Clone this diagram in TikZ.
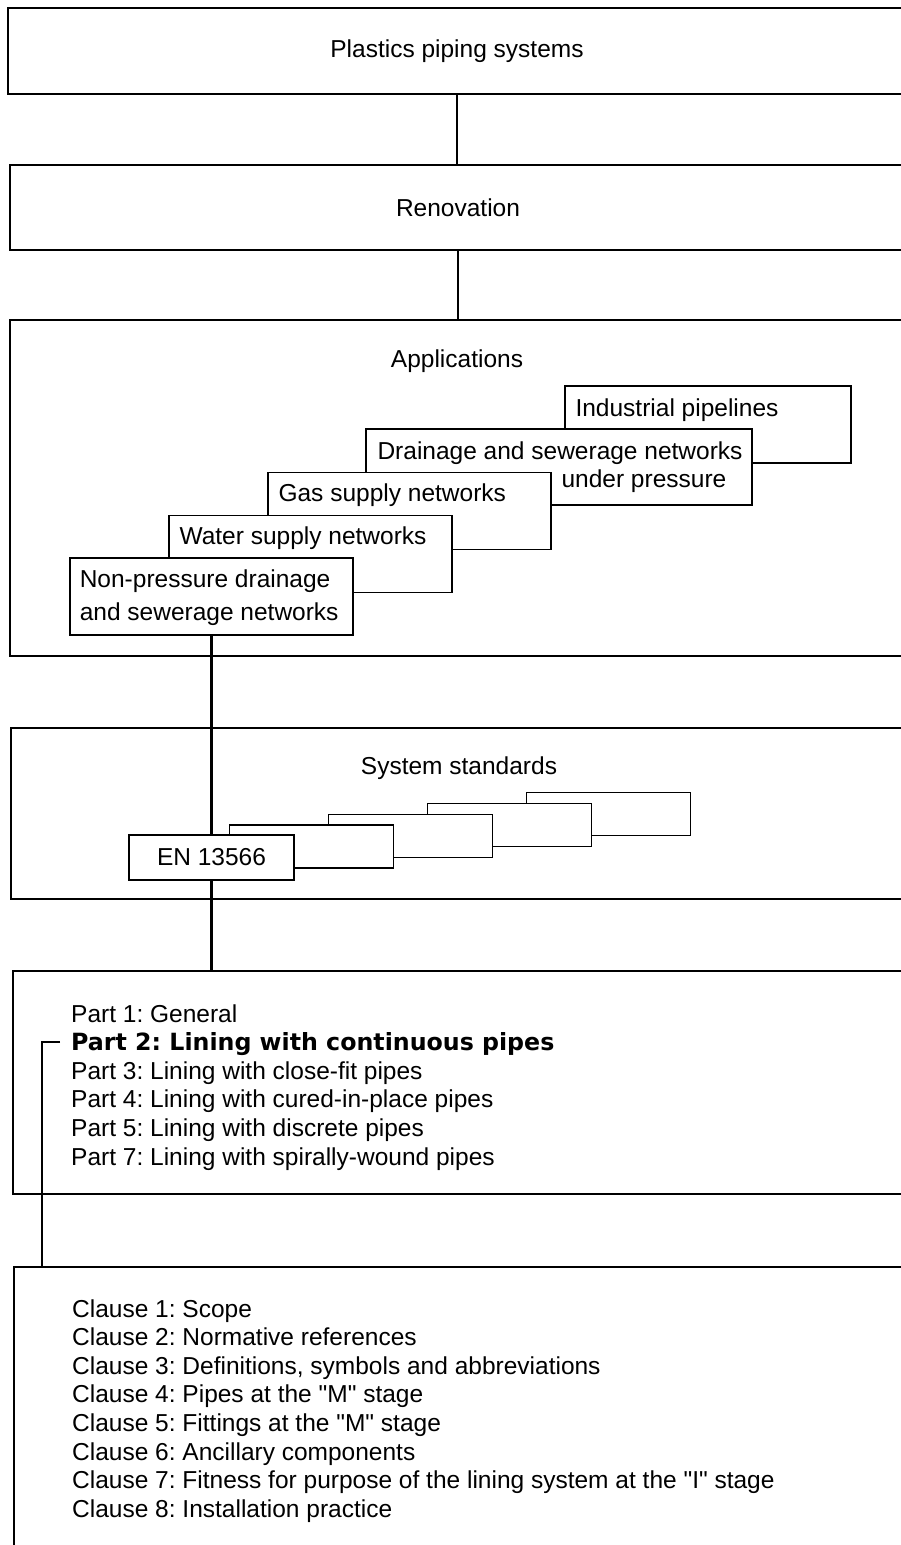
\documentclass[tikz,border=0pt]{standalone}
\usepackage{fontspec}
\newfontfamily\armain{Liberation Sans}
\newfontfamily\heavyfont{DejaVu Sans}
\begin{document}
\begin{tikzpicture}[x=1pt,y=-1pt,
  every node/.style={font=\armain\frenchspacing\fontsize{24.5}{28.6}\selectfont},
  bigbox/.style={draw,line width=1.6pt,fill=white,inner sep=0pt},
  subbox/.style={draw,line width=1.3pt,fill=white,minimum width=283pt,minimum height=77pt},
  stdbox/.style={draw,line width=1.3pt,fill=white,minimum width=164pt,minimum height=43pt},
  keybox/.style={line width=2.8pt},
  txt/.style={anchor=base west,inner sep=0pt},
  link/.style={line width=2.2pt}]
\useasboundingbox (0,0) rectangle (901,1545);
\clip (0,0) rectangle (901,1545);

% levels
\node[bigbox,minimum width=898pt,minimum height=86pt] (plastics) at (457,51) {Plastics piping systems};
\node[bigbox,minimum width=896pt,minimum height=85pt] (renov) at (458,207.5) {Renovation};
\node[bigbox,minimum width=896pt,minimum height=336pt] (appl) at (458,488) {};
\node[bigbox,minimum width=895pt,minimum height=171pt] (sysstd) at (458.5,813.5) {};
\node[bigbox,minimum width=893pt,minimum height=223pt] (parts) at (459.5,1082.5) {};
\node[bigbox,minimum width=892pt,minimum height=293pt] (clauses) at (460,1413.5) {};

\node[anchor=base] (applt) at (457,367) {Applications};
\node[anchor=base] (syst) at (459,774) {System standards};

% applications, back to front
\node[subbox,minimum width=286pt] (ind) at (708,424.5) {};
\node[txt] (indt) at ([shift={(11,31)}]ind.north west) {Industrial pipelines};
\node[subbox,minimum width=386pt,minimum height=76pt] (drain) at (559,467) {};
\node[txt] (draint) at ([shift={(12,31)}]drain.north west) {Drainage and sewerage networks};
\node[txt] (draint2) at ([shift={(196,59)}]drain.north west) {under pressure};
\node[subbox] (gas) at (409.5,511) {};
\node[txt] (gast) at ([shift={(11,30)}]gas.north west) {Gas supply networks};
\node[subbox] (water) at (310.5,554) {};
\node[txt] (watert) at ([shift={(11,30)}]water.north west) {Water supply networks};
\node[subbox,keybox] (nonp) at (211.5,596.5) {};
\node[txt] (nonpt) at ([shift={(11,31)}]nonp.north west) {Non-pressure drainage};
\node[txt] (nonpt2) at ([shift={(11,64)}]nonp.north west) {and sewerage networks};

% system standards
\foreach \i in {3,2,1,0}
  \node[stdbox] (std\i) at (311.5+99*\i,846.5-10.8*\i) {};
\node[stdbox,keybox,minimum width=165pt,minimum height=45pt] (en) at (211.5,857.5) {EN 13566};

% parts
\node[txt] (part1) at (71,1022) {Part 1: General};
\node[txt,font=\heavyfont\bfseries\frenchspacing\fontsize{23.7}{28.6}\selectfont] (part2) at (71,1050.6) {Part 2: Lining with continuous pipes};
\node[txt] (part3) at (71,1079.2) {Part 3: Lining with close-fit pipes};
\node[txt] (part4) at (71,1107.8) {Part 4: Lining with cured-in-place pipes};
\node[txt] (part5) at (71,1136.4) {Part 5: Lining with discrete pipes};
\node[txt] (part7) at (71,1165) {Part 7: Lining with spirally-wound pipes};

% clauses
\foreach \t [count=\i] in {Scope, Normative references, {Definitions, symbols and abbreviations}, {Pipes at the "M" stage}, {Fittings at the "M" stage}, Ancillary components, {Fitness for purpose of the lining system at the "I" stage}, Installation practice}
  \node[txt] (clause\i) at (72,1288.4+28.6*\i) {Clause \i: \t};

% connectors
\draw[link] (plastics.south) -- (plastics.south |- renov.north);
\draw[link] (renov.south) -- (renov.south |- appl.north);
\draw[link] (nonp.south) -- (nonp.south |- en.north);
\draw[link] (en.south) -- (en.south |- parts.north);
\coordinate (brk) at (42,0);
\draw[link] ([shift={(-11,-8.6)}]part2.base west) -| (brk |- clauses.north);
\end{tikzpicture}
\end{document}
